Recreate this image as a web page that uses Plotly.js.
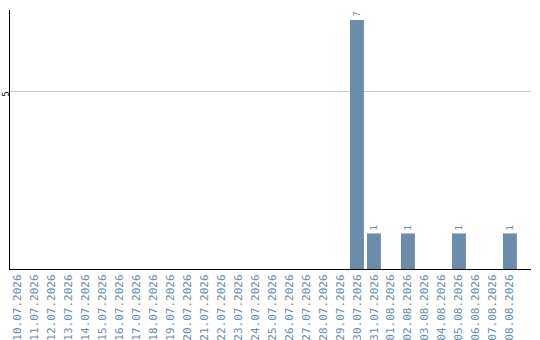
<!DOCTYPE html>
<html>
<head>
<meta charset="utf-8">
<script src="https://cdn.plot.ly/plotly-3.0.1.min.js"></script>
<style>
  html, body { margin: 0; padding: 0; background: #fff; }
  #chart { width: 540px; height: 340px; }
</style>
</head>
<body>
<div id="chart"></div>
<script>
// Daily counts, 10.07.2026 – 08.08.2026
const dates = [
  "10.07.2026", "11.07.2026", "12.07.2026", "13.07.2026", "14.07.2026",
  "15.07.2026", "16.07.2026", "17.07.2026", "18.07.2026", "19.07.2026",
  "20.07.2026", "21.07.2026", "22.07.2026", "23.07.2026", "24.07.2026",
  "25.07.2026", "26.07.2026", "27.07.2026", "28.07.2026", "29.07.2026",
  "30.07.2026", "31.07.2026", "01.08.2026", "02.08.2026", "03.08.2026",
  "04.08.2026", "05.08.2026", "06.08.2026", "07.08.2026", "08.08.2026"
];
const counts = [
  0, 0, 0, 0, 0,
  0, 0, 0, 0, 0,
  0, 0, 0, 0, 0,
  0, 0, 0, 0, 0,
  7, 1, 0, 1, 0,
  0, 1, 0, 0, 1
];
const yTicks = [5];

const barColor = "#6b8cab";
const labelColor = "#6b8cab";

const trace = {
  type: "bar",
  x: dates,
  y: counts,
  marker: { color: barColor, line: { width: 0 } },
  text: counts.map(v => (v > 0 ? String(v) : "")),
  textposition: "outside",
  textangle: -90,
  textfont: { family: "DejaVu Sans", size: 9, color: labelColor },
  cliponaxis: false,
  hoverinfo: "none"
};

const layout = {
  width: 540,
  height: 340,
  margin: { l: 10, r: 9, t: 10, b: 71, pad: 0 },
  paper_bgcolor: "#ffffff",
  plot_bgcolor: "#ffffff",
  showlegend: false,
  bargap: 0.18,
  xaxis: {
    type: "category",
    range: [-0.41, 30.24],
    showline: true,
    linecolor: "#000000",
    linewidth: 1,
    showgrid: false,
    zeroline: false,
    ticks: "",
    tickangle: -90,
    tickfont: { family: "DejaVu Sans Mono", size: 11, color: "#6b8cab" },
    automargin: false
  },
  yaxis: {
    range: [0, 7.28],
    tickvals: yTicks,
    ticktext: yTicks.map(String),
    tickangle: -90,
    ticklabelstandoff: -3,
    ticklabelshift: 4,
    tickfont: { family: "DejaVu Sans", size: 8, color: "#000000" },
    showline: true,
    linecolor: "#000000",
    linewidth: 1,
    showgrid: true,
    gridcolor: "#cccccc",
    gridwidth: 1,
    zeroline: false,
    ticks: "",
    automargin: false
  }
};

Plotly.newPlot("chart", [trace], layout, { staticPlot: true, displayModeBar: false });
</script>
</body>
</html>
